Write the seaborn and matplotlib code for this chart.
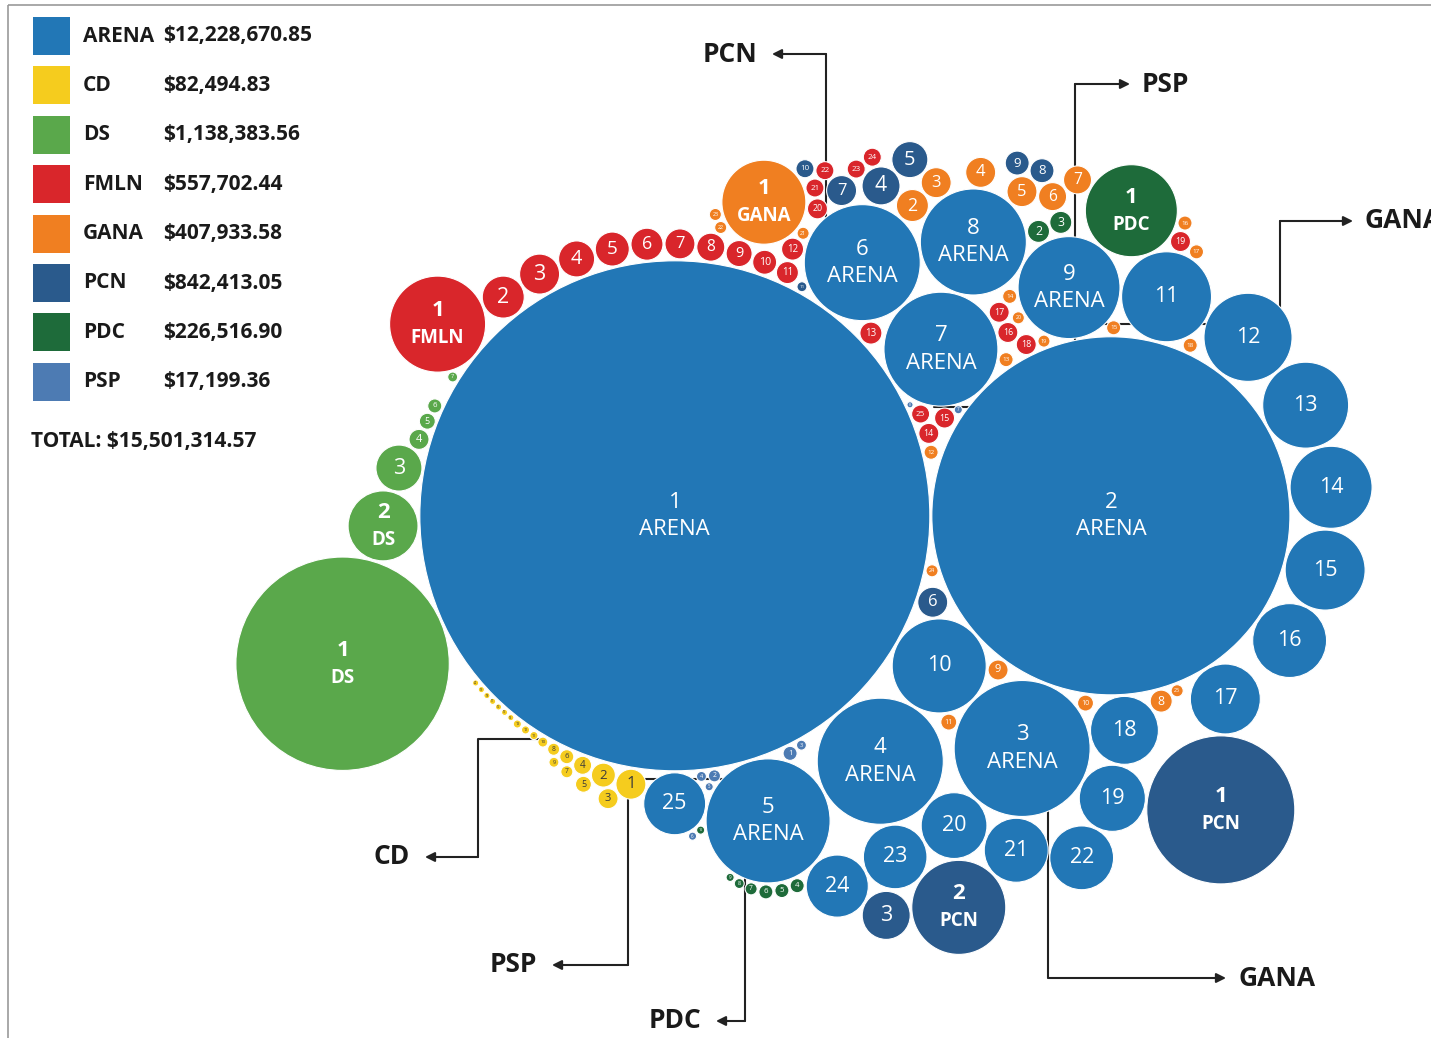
import numpy as np
import pandas as pd
import matplotlib
matplotlib.use("Agg")
import matplotlib.pyplot as plt
from matplotlib.patches import Circle, Rectangle
import seaborn as sns

# >> Party totals shown in the legend
parties = ["ARENA", "CD", "DS", "FMLN", "GANA", "PCN", "PDC", "PSP"]
party_totals = ["$12,228,670.85", "$82,494.83", "$1,138,383.56", "$557,702.44",
                "$407,933.58", "$842,413.05", "$226,516.90", "$17,199.36"]
grand_total = "TOTAL: $15,501,314.57"
party_colors = ["#2277b6", "#f5cc1e", "#5aa84b", "#d9262b",
                "#f07f21", "#2a5a8c", "#1e6b3a", "#4d7bb3"]

# >> Ranked amounts per party
arena = [5530000, 2726000, 393000, 338000, 327000, 286000, 276000, 239000, 221000, 188000,
         172000, 165000, 157000, 143000, 136000, 116000, 104000, 98000, 93000, 92000,
         87000, 86500, 86000, 82000, 81500]
cd = [19100, 12200, 8500, 6900, 5400, 4200, 3100, 3100, 2100, 2100,
      1400, 1400, 1400, 800, 800, 800, 800, 800, 800, 800]
ds = [968000, 104000, 45000, 8500, 5400, 4200, 2100]
fmln = [196000, 37500, 34000, 27600, 24600, 21800, 19100, 16700, 14400, 12200,
        10300, 10300, 10300, 8500, 8500, 8500, 8500, 8500, 8500, 8500,
        6900, 6900, 6900, 6900, 6900]
gana = [150000, 21800, 19100, 19100, 19100, 16700, 16700, 10300, 8500, 5400,
        5400, 4200, 4200, 4200, 4200, 4200, 4200, 4200, 3100, 3100,
        3100, 3100, 3100, 3100, 3100]
pcn = [466000, 188000, 49000, 30700, 27600, 19100, 19100, 12200, 12200, 6900, 2100]
pdc = [180000, 10300, 10300, 4200, 4200, 4200, 3100, 2100, 1400, 1400]
psp = [4200, 3100, 2100, 2100, 1400, 1400, 1400, 800]

rows = []
for party, vals in zip(parties, [arena, cd, ds, fmln, gana, pcn, pdc, psp]):
    for num, v in enumerate(vals, 1):
        rows.append((party, num, v))
df = pd.DataFrame(rows, columns=["party", "num", "amount"])
df["color"] = df["party"].map(dict(zip(parties, party_colors)))
df["r"] = np.sqrt(df["amount"]) * (255 / np.sqrt(arena[0]))   # px radius, area ~ amount

# packing order; each group is pulled round the cloud from angle a0 to a1 (deg, y up);
# "outer" groups may only sit on the rim of the cloud, not in its gaps
layout = [
    ("ARENA", 1, 2, None, None, False), ("ARENA", 10, 10, -51, -51, False),
    ("ARENA", 3, 5, -49, -98, False), ("ARENA", 7, 7, 54, 54, False),
    ("ARENA", 6, 6, 81, 81, False), ("ARENA", 8, 9, 62, 43, False),
    ("ARENA", 11, 19, 33, -38, True), ("ARENA", 20, 22, -65, -48, False),
    ("ARENA", 23, 24, -76, -86, False), ("ARENA", 25, 25, -116, -116, False),
    ("DS", 1, 7, 196, 160, False), ("PCN", 1, 1, -32, -32, False),
    ("FMLN", 1, 12, 155, 97, False), ("PCN", 2, 3, -68, -77, False),
    ("PDC", 1, 3, 43, 50, True), ("GANA", 1, 1, 102, 102, False),
    ("GANA", 2, 7, 70, 52, True), ("PCN", 4, 5, 78, 76, True), ("PCN", 7, 7, 84, 84, True),
    ("FMLN", 13, 13, 96, 96, False), ("FMLN", 20, 25, 94, 78, False),
    ("FMLN", 14, 19, 52, 41, False), ("PCN", 6, 6, -41, -41, False),
    ("PCN", 8, 9, 56, 54, True), ("PCN", 10, 11, 91, 87, False),
    ("GANA", 8, 11, -35, -43, False), ("GANA", 12, 20, 47, 30, False),
    ("GANA", 21, 23, 95, 105, False), ("GANA", 24, 25, -27, -27, False),
    ("PDC", 4, 10, -93, -102, True), ("CD", 1, 20, -124, -156, False),
    ("PSP", 1, 6, -106, -112, False), ("PSP", 7, 8, 43, 43, False),
]

order, pulls, outer = [], [], []
for party, a, b, a0, a1, rim in layout:
    idx = df.index[(df["party"] == party) & (df["num"] >= a) & (df["num"] <= b)]
    order += list(idx)
    pulls += [None] * len(idx) if a0 is None else list(np.linspace(a0, a1, len(idx)))
    outer += [rim] * len(idx)


def pack(radii, pulls, outer, pad=2.0, lam=10.0):
    R = np.asarray(radii) + pad / 2
    n = len(R)
    pos = np.zeros((n, 2))
    pos[1] = (R[0] + R[1], 0)
    centre = (pos[0] * R[0] ** 2 + pos[1] * R[1] ** 2) / (R[0] ** 2 + R[1] ** 2)
    t = np.radians(np.arange(0, 360, 2.0))
    ring = np.stack([np.cos(t), np.sin(t)], 1)
    for k in range(2, n):
        P, Q = pos[:k], R[:k]
        i, j = np.triu_indices(k, 1)
        a, b = Q[i] + R[k], Q[j] + R[k]
        dv = P[j] - P[i]
        d = np.hypot(dv[:, 0], dv[:, 1])
        ok = (d < a + b) & (d > np.abs(a - b))
        i, a, b, dv, d = i[ok], a[ok], b[ok], dv[ok], d[ok]
        x = (a ** 2 - b ** 2 + d ** 2) / (2 * d)
        h = np.sqrt(np.maximum(a ** 2 - x ** 2, 0))
        ex = dv / d[:, None]
        base = P[i] + ex * x[:, None]
        perp = np.stack([-ex[:, 1], ex[:, 0]], 1)
        single = (P[:, None, :] + (Q + R[k])[:, None, None] * ring[None]).reshape(-1, 2)
        cand = np.vstack([base + perp * h[:, None], base - perp * h[:, None], single])
        dist = np.sqrt(((cand[:, None, :] - P[None, :, :]) ** 2).sum(-1))
        cand = cand[(dist >= Q[None, :] + R[k] - 1e-6).all(1)]
        off = cand - centre
        rr = np.hypot(off[:, 0], off[:, 1])
        if outer[k]:
            v = P - centre
            proj = (off / rr[:, None]) @ v.T
            perp2 = (v ** 2).sum(1)[None, :] - proj ** 2
            free = ~((proj > rr[:, None]) & (perp2 < Q[None, :] ** 2)).any(1)
            if free.any():
                cand, off, rr = cand[free], off[free], rr[free]
        score = rr.copy()
        if pulls[k] is not None:
            u = np.array([np.cos(np.radians(pulls[k])), np.sin(np.radians(pulls[k]))])
            score = rr * (1 + lam * (1 - (off @ u) / rr))
        pos[k] = cand[np.argmin(score)]
    return pos


xy = pack(df.loc[order, "r"].values, pulls, outer)
df.loc[order, "x"] = xy[:, 0]
df.loc[order, "y"] = -xy[:, 1]
# centre the bubble cloud where it sits on the page
x0 = (df["x"] - df["r"]).min(); x1 = (df["x"] + df["r"]).max()
y0 = (df["y"] - df["r"]).min(); y1 = (df["y"] + df["r"]).max()
df["x"] += 804 - (x0 + x1) / 2
df["y"] += 548 - (y0 + y1) / 2

sns.set_theme(style="white")
plt.rcParams["font.family"] = ["Open Sans", "DejaVu Sans"]

fig = plt.figure(figsize=(14.31, 10.38), dpi=100)
ax = fig.add_axes([0, 0, 1, 1])
ax.set_xlim(0, 1431)
ax.set_ylim(1038, 0)
ax.axis("off")

for _, c in df.iterrows():
    cx, cy, r, num, party = c["x"], c["y"], c["r"], c["num"], c["party"]
    ax.add_patch(Circle((cx, cy), r, fc=c["color"], ec="white", lw=0.8, zorder=2))
    tc = "#3a3a3a" if party == "CD" else "white"
    if r >= 34 and num < 10:
        bold = "normal" if party == "ARENA" else "bold"
        fs_name = 16 if party == "ARENA" else 13.5
        ax.text(cx, cy - 13.5, str(num), ha="center", va="center", color=tc,
                fontsize=16, fontweight=bold, zorder=3)
        ax.text(cx, cy + 14, party, ha="center", va="center", color=tc,
                fontsize=fs_name, fontweight=bold, zorder=3)
    elif r >= 2.5:
        fs = min(15.5, 0.8 * r) * (0.8 if num >= 10 and r < 20 else 1)
        ax.text(cx, cy, str(num), ha="center", va="center", color=tc,
                fontsize=fs, zorder=3)

# callouts for the tiny bubbles: party, ranks, label x/y, elbow x, side
callouts = [
    ("PCN", 4, 11, 757, 54, 826, "left"),
    ("PSP", 7, 8, 1142, 84, 1075, "right"),
    ("GANA", 12, 20, 1365, 221, 1280, "right"),
    ("CD", 1, 20, 410, 857, 478, "left"),
    ("PSP", 1, 6, 537, 965, 628, "left"),
    ("PDC", 4, 10, 701, 1021, 745, "left"),
    ("GANA", 8, 11, 1238, 978, None, "right"),
]
for party, a, b, lx, ly, ex_, side in callouts:
    g = df[(df["party"] == party) & (df["num"] >= a) & (df["num"] <= b)]
    gx, gy = g["x"].mean(), g["y"].mean()
    ex_ = gx if ex_ is None else ex_
    tip = lx - 12 if side == "right" else lx + 15
    ax.plot([gx, ex_, ex_], [gy, gy, ly], color="#222222", lw=1.5, zorder=1)
    ax.annotate("", xy=(tip, ly), xytext=(ex_, ly),
                arrowprops=dict(arrowstyle="-|>", color="#222222", lw=1.5,
                                mutation_scale=14, shrinkA=0, shrinkB=0), zorder=1)
    ax.text(lx, ly, party, ha="left" if side == "right" else "right", va="center",
            fontsize=19, fontweight="bold", color="#1a1a1a")

# legend
for k, (p, tot, col) in enumerate(zip(parties, party_totals, party_colors)):
    yc = 36 + k * 49.4
    ax.add_patch(Rectangle((33, yc - 19), 37, 38, fc=col, ec="none"))
    ax.text(83, yc, p, ha="left", va="center", fontsize=15, fontweight="bold", color="#1a1a1a")
    ax.text(163, yc, tot, ha="left", va="center", fontsize=15, fontweight="bold", color="#1a1a1a")
ax.text(31, 441, grand_total, ha="left", va="center", fontsize=15, fontweight="bold", color="#1a1a1a")

# page frame
ax.add_patch(Rectangle((8, 5), 1440, 1050, fill=False, ec="#9a9a9a", lw=1.2, zorder=0))

fig.savefig("out.png", dpi=100)
